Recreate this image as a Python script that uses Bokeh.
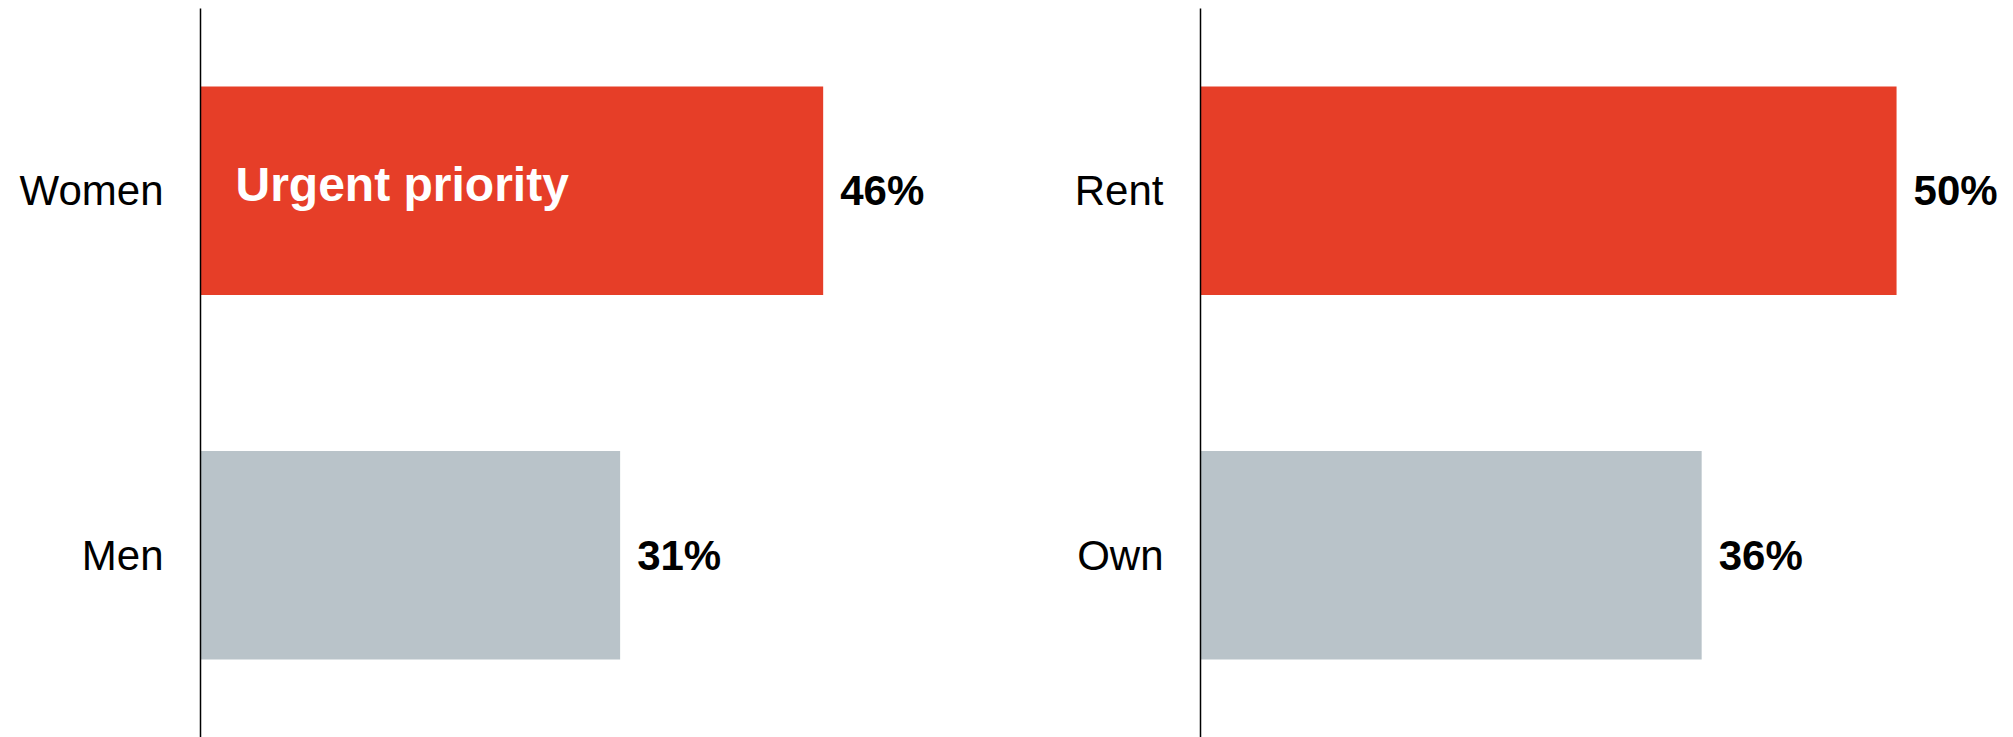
from bokeh.plotting import figure
from bokeh.layouts import row
from bokeh.models import ColumnDataSource, FactorRange, Range1d
from bokeh.core.properties import value
from bokeh.embed import file_html
from bokeh.resources import INLINE

# ---- data ----
left_categories = ["Men", "Women"]
left_values = [31, 46]
right_categories = ["Own", "Rent"]
right_values = [36, 50]
bar_colors = ["#B9C3C9", "#E63E28"]
highlight_label = "Urgent priority"

FONT = "Liberation Sans"


def panel(cats, vals, width, border_left, x_end, note=None):
    src = ColumnDataSource(dict(
        cat=cats, val=vals, color=bar_colors,
        label=[f"{v}%" for v in vals],
    ))
    p = figure(
        y_range=FactorRange(factors=cats, range_padding=0),
        x_range=Range1d(0, x_end),
        width=width, height=737,
        output_backend="svg", toolbar_location=None,
        min_border_left=border_left, min_border_right=0,
        min_border_top=8, min_border_bottom=0,
    )
    p.hbar(y="cat", right="val", left=0, height=0.572, color="color",
           line_color=None, source=src)
    p.text(x="val", y="cat", text="label", source=src,
           x_offset=17, text_baseline="middle", text_align="left",
           text_font=value(FONT), text_font_style="bold",
           text_font_size="42px", text_color="black")
    if note is not None:
        p.text(x=[0], y=[cats[-1]], text=[note], x_offset=35, y_offset=-6,
               text_baseline="middle", text_align="left",
               text_font=value(FONT), text_font_style="bold",
               text_font_size="48px", text_color="white")
    p.xaxis.visible = False
    p.xgrid.visible = False
    p.ygrid.visible = False
    p.outline_line_color = None
    ax = p.yaxis[0]
    ax.axis_line_color = "black"
    ax.axis_line_width = 1.5
    ax.major_tick_line_color = None
    ax.minor_tick_line_color = None
    ax.major_tick_out = 0
    ax.major_tick_in = 0
    ax.major_label_standoff = 37
    ax.major_label_text_font = FONT
    ax.major_label_text_font_size = "42px"
    ax.major_label_text_color = "black"
    p.background_fill_color = "white"
    p.border_fill_color = "white"
    return p


p1 = panel(left_categories, left_values, 1000, 200, 59.1, note=highlight_label)
p2 = panel(right_categories, right_values, 1013, 200, 58.4)

layout = row(p1, p2, spacing=0)

with open("out.html", "w") as f:
    f.write(file_html(layout, INLINE))
